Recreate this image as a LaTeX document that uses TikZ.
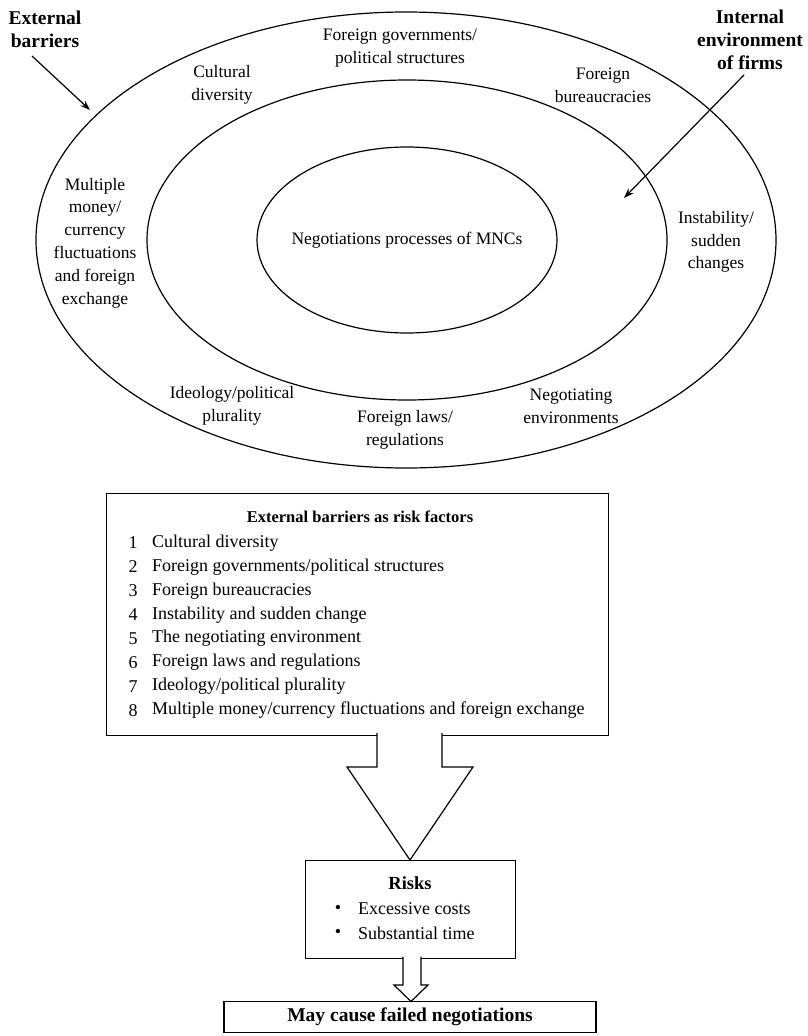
\documentclass[tikz,border=0pt]{standalone}
\usepackage{fontspec}
\setmainfont{Liberation Serif}
\usetikzlibrary{arrows.meta,shapes.geometric}
\begin{document}
\begin{tikzpicture}[x=1pt,y=-1pt,
  lbl/.style={align=center,font=\fontsize{17.5}{22.8}\selectfont,inner sep=0pt},
  bold/.style={align=center,font=\fontsize{19.5}{22.8}\selectfont\bfseries,inner sep=0pt},
  item/.style={anchor=west,font=\fontsize{18}{22.5}\selectfont,inner sep=0pt},
  ring/.style={draw,ellipse,line width=1.2pt,inner sep=0pt},
  arr/.style={line width=1.2pt,-{Stealth[length=10pt,width=7pt]}},
  boxline/.style={draw,line width=1.2pt,inner sep=0pt},
  blockarrow/.style={draw,fill=white,line width=1.2pt,line join=miter}]
\path[use as bounding box] (0,0) rectangle (808,1036);
% rings
\node[ring,minimum width=740pt,minimum height=456pt] (outer) at (406,240) {};
\node[ring,minimum width=520pt,minimum height=320pt] (middle) at (407,240) {};
\node[ring,minimum width=300pt,minimum height=186pt] (inner) at (407,240) {};
% outside labels and arrows
\node[bold] (ext) at (45,29) {External\\barriers};
\node[bold] (int) at (750,40) {Internal\\environment\\of firms};
\coordinate (extstart) at (32,56);
\coordinate (extend) at (90,110);
\coordinate (intstart) at (744,75);
\coordinate (intend) at (624,198);
\draw[arr] (extstart) -- (extend);
\draw[arr] (intstart) -- (intend);
% ring labels
\node[lbl] (govt) at (400,48) {Foreign governments/\\political structures};
\node[lbl] (cult) at (222,85) {Cultural\\diversity};
\node[lbl] (bur) at (603,85) {Foreign\\bureaucracies};
\node[lbl] (money) at (95,243) {Multiple\\money/\\currency\\fluctuations\\and foreign\\exchange};
\node[lbl] (inst) at (716,242) {Instability/\\sudden\\changes};
\node[lbl] (neg) at (407,240) {Negotiations processes of MNCs};
\node[lbl] (ideo) at (232,406) {Ideology/political\\plurality};
\node[lbl] (laws) at (405,430) {Foreign laws/\\regulations};
\node[lbl] (env) at (571,406) {Negotiating\\environments};
% risk factor box
\node[boxline,minimum width=502pt,minimum height=242pt,anchor=north west] (rbox) at (106,493) {};
\node[bold,font=\fontsize{16.5}{20}\selectfont\bfseries] (rtitle) at (360,517) {External barriers as risk factors};
\foreach \t [count=\i] in {{Cultural diversity},{Foreign governments/political structures},{Foreign bureaucracies},{Instability and sudden change},{The negotiating environment},{Foreign laws and regulations},{Ideology/political plurality},{Multiple money/currency fluctuations and foreign exchange}}{
  \node[item,anchor=center] (num\i) at (133,{543+23.9*(\i-1)}) {\i};
  \node[item] (item\i) at (152,{543+23.9*(\i-1)}) {\t};
}
% risks box
\node[boxline,minimum width=210pt,minimum height=98pt,anchor=north west] (risks) at (305,860) {};
\node[bold,font=\fontsize{18.5}{20}\selectfont\bfseries] (rktitle) at (410,883) {Risks};
\node[item,anchor=center] (b1) at (338,909) {•};
\node[item,anchor=center] (b2) at (338,933) {•};
\node[item] (r1) at (358,909) {Excessive costs};
\node[item] (r2) at (358,933) {Substantial time};
% failure box
\node[boxline,bold,font=\fontsize{19.5}{20}\selectfont\bfseries,minimum width=372pt,minimum height=31pt] (fail) at (410,1017) {May cause failed negotiations};
% block arrows
\path[blockarrow] (377,733) -- (377,767) -- (347,767) -- (410,860) -- (473,767) -- (442,767) -- (442,733);
\path[blockarrow] (403,956.5) -- (403,985) -- (394,985) -- (411,1001.5) -- (428,985) -- (421,985) -- (421,956.5);
\end{tikzpicture}
\end{document}
